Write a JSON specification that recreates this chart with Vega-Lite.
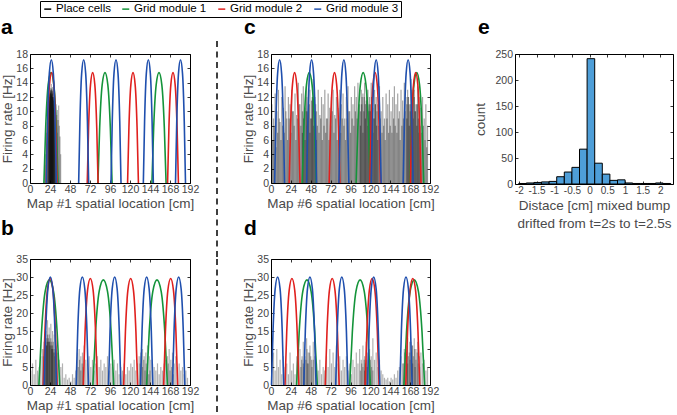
{
"$schema": "https://vega.github.io/schema/vega-lite/v6.json",
"padding": {"left": 0, "top": 0, "right": 0, "bottom": 0},
"config": {
  "font": "Liberation Sans",
  "view": {"stroke": "black", "strokeWidth": 1},
  "axis": {"grid": false, "domain": false, "tickSize": -3, "tickColor": "black", "tickWidth": 0.8, "labelPadding": 5.5, "labelFontSize": 10.5, "labelColor": "#444444", "labelFont": "Liberation Sans", "titleFont": "Liberation Sans", "titleFontSize": 13.5, "titleFontWeight": "normal", "titleColor": "#4a4a4a", "labelOverlap": false, "labelFlush": false, "titleLineHeight": 18},
  "axisY": {"titlePadding": 1},
  "axisX": {"titlePadding": 1.5, "labelPadding": 4.5},
  "title": {"anchor": "start", "frame": "group", "fontSize": 21, "fontWeight": "bold", "color": "black", "baseline": "alphabetic", "font": "Liberation Sans"},
  "legend": {"strokeColor": "black", "padding": 2, "labelFontSize": 11.5, "labelColor": "black", "labelFont": "Liberation Sans", "symbolType": "stroke", "symbolSize": 49, "symbolStrokeWidth": 1.5, "symbolOpacity": 1, "columnPadding": 8, "labelOffset": 2.5, "labelLimit": 200}
},
"datasets": {
  "ga": [
    {"m":"Grid module 1","k":"g1","x":16.7,"y":0},{"m":"Grid module 1","k":"g1","x":18.8,"y":7.7},{"m":"Grid module 1","k":"g1","x":21.8,"y":13.7},{"m":"Grid module 1","k":"g1","x":25.2,"y":15.4},{"m":"Grid module 1","k":"g1","x":28.6,"y":13.7},{"m":"Grid module 1","k":"g1","x":31.6,"y":7.7},{"m":"Grid module 1","k":"g1","x":33.7,"y":0},
    {"m":"Grid module 1","k":"g2","x":81.5,"y":0},{"m":"Grid module 1","k":"g2","x":83.6,"y":7.7},{"m":"Grid module 1","k":"g2","x":86.6,"y":13.7},{"m":"Grid module 1","k":"g2","x":90,"y":15.4},{"m":"Grid module 1","k":"g2","x":93.4,"y":13.7},{"m":"Grid module 1","k":"g2","x":96.4,"y":7.7},{"m":"Grid module 1","k":"g2","x":98.5,"y":0},
    {"m":"Grid module 1","k":"g3","x":146.3,"y":0},{"m":"Grid module 1","k":"g3","x":148.4,"y":7.7},{"m":"Grid module 1","k":"g3","x":151.4,"y":13.7},{"m":"Grid module 1","k":"g3","x":154.8,"y":15.4},{"m":"Grid module 1","k":"g3","x":158.2,"y":13.7},{"m":"Grid module 1","k":"g3","x":161.2,"y":7.7},{"m":"Grid module 1","k":"g3","x":163.3,"y":0},
    {"m":"Grid module 2","k":"r1","x":19.5,"y":0},{"m":"Grid module 2","k":"r1","x":21.1,"y":7.7},{"m":"Grid module 2","k":"r1","x":23.4,"y":13.7},{"m":"Grid module 2","k":"r1","x":26,"y":15.4},{"m":"Grid module 2","k":"r1","x":28.6,"y":13.7},{"m":"Grid module 2","k":"r1","x":30.9,"y":7.7},{"m":"Grid module 2","k":"r1","x":32.5,"y":0},
    {"m":"Grid module 2","k":"r2","x":68.7,"y":0},{"m":"Grid module 2","k":"r2","x":70.3,"y":7.7},{"m":"Grid module 2","k":"r2","x":72.6,"y":13.7},{"m":"Grid module 2","k":"r2","x":75.2,"y":15.4},{"m":"Grid module 2","k":"r2","x":77.8,"y":13.7},{"m":"Grid module 2","k":"r2","x":80.1,"y":7.7},{"m":"Grid module 2","k":"r2","x":81.7,"y":0},
    {"m":"Grid module 2","k":"r3","x":117.1,"y":0},{"m":"Grid module 2","k":"r3","x":118.7,"y":7.7},{"m":"Grid module 2","k":"r3","x":121,"y":13.7},{"m":"Grid module 2","k":"r3","x":123.6,"y":15.4},{"m":"Grid module 2","k":"r3","x":126.2,"y":13.7},{"m":"Grid module 2","k":"r3","x":128.5,"y":7.7},{"m":"Grid module 2","k":"r3","x":130.1,"y":0},
    {"m":"Grid module 2","k":"r4","x":165.1,"y":0},{"m":"Grid module 2","k":"r4","x":166.7,"y":7.7},{"m":"Grid module 2","k":"r4","x":169,"y":13.7},{"m":"Grid module 2","k":"r4","x":171.6,"y":15.4},{"m":"Grid module 2","k":"r4","x":174.2,"y":13.7},{"m":"Grid module 2","k":"r4","x":176.5,"y":7.7},{"m":"Grid module 2","k":"r4","x":178.1,"y":0},
    {"m":"Grid module 3","k":"b1","x":19.6,"y":0},{"m":"Grid module 3","k":"b1","x":21.1,"y":8.6},{"m":"Grid module 3","k":"b1","x":23.2,"y":15.3},{"m":"Grid module 3","k":"b1","x":25.6,"y":17.2},{"m":"Grid module 3","k":"b1","x":28,"y":15.3},{"m":"Grid module 3","k":"b1","x":30.1,"y":8.6},{"m":"Grid module 3","k":"b1","x":31.6,"y":0},
    {"m":"Grid module 3","k":"b2","x":58.4,"y":0},{"m":"Grid module 3","k":"b2","x":59.9,"y":8.6},{"m":"Grid module 3","k":"b2","x":62,"y":15.3},{"m":"Grid module 3","k":"b2","x":64.4,"y":17.2},{"m":"Grid module 3","k":"b2","x":66.8,"y":15.3},{"m":"Grid module 3","k":"b2","x":68.9,"y":8.6},{"m":"Grid module 3","k":"b2","x":70.4,"y":0},
    {"m":"Grid module 3","k":"b3","x":97.2,"y":0},{"m":"Grid module 3","k":"b3","x":98.7,"y":8.6},{"m":"Grid module 3","k":"b3","x":100.8,"y":15.3},{"m":"Grid module 3","k":"b3","x":103.2,"y":17.2},{"m":"Grid module 3","k":"b3","x":105.6,"y":15.3},{"m":"Grid module 3","k":"b3","x":107.7,"y":8.6},{"m":"Grid module 3","k":"b3","x":109.2,"y":0},
    {"m":"Grid module 3","k":"b4","x":136,"y":0},{"m":"Grid module 3","k":"b4","x":137.5,"y":8.6},{"m":"Grid module 3","k":"b4","x":139.6,"y":15.3},{"m":"Grid module 3","k":"b4","x":142,"y":17.2},{"m":"Grid module 3","k":"b4","x":144.4,"y":15.3},{"m":"Grid module 3","k":"b4","x":146.5,"y":8.6},{"m":"Grid module 3","k":"b4","x":148,"y":0},
    {"m":"Grid module 3","k":"b5","x":174.6,"y":0},{"m":"Grid module 3","k":"b5","x":176.1,"y":8.6},{"m":"Grid module 3","k":"b5","x":178.2,"y":15.3},{"m":"Grid module 3","k":"b5","x":180.6,"y":17.2},{"m":"Grid module 3","k":"b5","x":183,"y":15.3},{"m":"Grid module 3","k":"b5","x":185.1,"y":8.6},{"m":"Grid module 3","k":"b5","x":186.6,"y":0}
  ],
  "gb": [
    {"m":"Grid module 1","k":"g1","x":10.7,"y":0},{"m":"Grid module 1","k":"g1","x":13.8,"y":14.6},{"m":"Grid module 1","k":"g1","x":18.2,"y":26},{"m":"Grid module 1","k":"g1","x":23.2,"y":29.2},{"m":"Grid module 1","k":"g1","x":28.2,"y":26},{"m":"Grid module 1","k":"g1","x":32.6,"y":14.6},{"m":"Grid module 1","k":"g1","x":35.7,"y":0},
    {"m":"Grid module 1","k":"g2","x":75.5,"y":0},{"m":"Grid module 1","k":"g2","x":78.6,"y":14.6},{"m":"Grid module 1","k":"g2","x":83,"y":26},{"m":"Grid module 1","k":"g2","x":88,"y":29.2},{"m":"Grid module 1","k":"g2","x":93,"y":26},{"m":"Grid module 1","k":"g2","x":97.4,"y":14.6},{"m":"Grid module 1","k":"g2","x":100.5,"y":0},
    {"m":"Grid module 1","k":"g3","x":139.9,"y":0},{"m":"Grid module 1","k":"g3","x":143,"y":14.6},{"m":"Grid module 1","k":"g3","x":147.4,"y":26},{"m":"Grid module 1","k":"g3","x":152.4,"y":29.2},{"m":"Grid module 1","k":"g3","x":157.4,"y":26},{"m":"Grid module 1","k":"g3","x":161.8,"y":14.6},{"m":"Grid module 1","k":"g3","x":164.9,"y":0},
    {"m":"Grid module 2","k":"r1","x":15.8,"y":0},{"m":"Grid module 2","k":"r1","x":17.9,"y":14.8},{"m":"Grid module 2","k":"r1","x":20.84,"y":26.3},{"m":"Grid module 2","k":"r1","x":24.2,"y":29.6},{"m":"Grid module 2","k":"r1","x":27.56,"y":26.3},{"m":"Grid module 2","k":"r1","x":30.5,"y":14.8},{"m":"Grid module 2","k":"r1","x":32.6,"y":0},
    {"m":"Grid module 2","k":"r2","x":64,"y":0},{"m":"Grid module 2","k":"r2","x":66.1,"y":14.8},{"m":"Grid module 2","k":"r2","x":69.04,"y":26.3},{"m":"Grid module 2","k":"r2","x":72.4,"y":29.6},{"m":"Grid module 2","k":"r2","x":75.76,"y":26.3},{"m":"Grid module 2","k":"r2","x":78.7,"y":14.8},{"m":"Grid module 2","k":"r2","x":80.8,"y":0},
    {"m":"Grid module 2","k":"r3","x":112.4,"y":0},{"m":"Grid module 2","k":"r3","x":114.5,"y":14.8},{"m":"Grid module 2","k":"r3","x":117.44,"y":26.3},{"m":"Grid module 2","k":"r3","x":120.8,"y":29.6},{"m":"Grid module 2","k":"r3","x":124.16,"y":26.3},{"m":"Grid module 2","k":"r3","x":127.1,"y":14.8},{"m":"Grid module 2","k":"r3","x":129.2,"y":0},
    {"m":"Grid module 2","k":"r4","x":160.4,"y":0},{"m":"Grid module 2","k":"r4","x":162.5,"y":14.8},{"m":"Grid module 2","k":"r4","x":165.44,"y":26.3},{"m":"Grid module 2","k":"r4","x":168.8,"y":29.6},{"m":"Grid module 2","k":"r4","x":172.16,"y":26.3},{"m":"Grid module 2","k":"r4","x":175.1,"y":14.8},{"m":"Grid module 2","k":"r4","x":177.2,"y":0},
    {"m":"Grid module 3","k":"b1","x":17,"y":0},{"m":"Grid module 3","k":"b1","x":18.85,"y":15},{"m":"Grid module 3","k":"b1","x":21.44,"y":26.7},{"m":"Grid module 3","k":"b1","x":24.4,"y":30},{"m":"Grid module 3","k":"b1","x":27.36,"y":26.7},{"m":"Grid module 3","k":"b1","x":29.95,"y":15},{"m":"Grid module 3","k":"b1","x":31.8,"y":0},
    {"m":"Grid module 3","k":"b2","x":55.4,"y":0},{"m":"Grid module 3","k":"b2","x":57.25,"y":15},{"m":"Grid module 3","k":"b2","x":59.84,"y":26.7},{"m":"Grid module 3","k":"b2","x":62.8,"y":30},{"m":"Grid module 3","k":"b2","x":65.76,"y":26.7},{"m":"Grid module 3","k":"b2","x":68.35,"y":15},{"m":"Grid module 3","k":"b2","x":70.2,"y":0},
    {"m":"Grid module 3","k":"b3","x":94.2,"y":0},{"m":"Grid module 3","k":"b3","x":96.05,"y":15},{"m":"Grid module 3","k":"b3","x":98.64,"y":26.7},{"m":"Grid module 3","k":"b3","x":101.6,"y":30},{"m":"Grid module 3","k":"b3","x":104.56,"y":26.7},{"m":"Grid module 3","k":"b3","x":107.15,"y":15},{"m":"Grid module 3","k":"b3","x":109,"y":0},
    {"m":"Grid module 3","k":"b4","x":132.6,"y":0},{"m":"Grid module 3","k":"b4","x":134.45,"y":15},{"m":"Grid module 3","k":"b4","x":137.04,"y":26.7},{"m":"Grid module 3","k":"b4","x":140,"y":30},{"m":"Grid module 3","k":"b4","x":142.96,"y":26.7},{"m":"Grid module 3","k":"b4","x":145.55,"y":15},{"m":"Grid module 3","k":"b4","x":147.4,"y":0},
    {"m":"Grid module 3","k":"b5","x":171,"y":0},{"m":"Grid module 3","k":"b5","x":172.85,"y":15},{"m":"Grid module 3","k":"b5","x":175.44,"y":26.7},{"m":"Grid module 3","k":"b5","x":178.4,"y":30},{"m":"Grid module 3","k":"b5","x":181.36,"y":26.7},{"m":"Grid module 3","k":"b5","x":183.95,"y":15},{"m":"Grid module 3","k":"b5","x":185.8,"y":0}
  ],
  "gc": [
    {"m":"Grid module 1","k":"g1","x":37.7,"y":0},{"m":"Grid module 1","k":"g1","x":39.8,"y":7.7},{"m":"Grid module 1","k":"g1","x":42.8,"y":13.7},{"m":"Grid module 1","k":"g1","x":46.2,"y":15.4},{"m":"Grid module 1","k":"g1","x":49.6,"y":13.7},{"m":"Grid module 1","k":"g1","x":52.6,"y":7.7},{"m":"Grid module 1","k":"g1","x":54.7,"y":0},
    {"m":"Grid module 1","k":"g2","x":102.8,"y":0},{"m":"Grid module 1","k":"g2","x":104.9,"y":7.7},{"m":"Grid module 1","k":"g2","x":107.9,"y":13.7},{"m":"Grid module 1","k":"g2","x":111.3,"y":15.4},{"m":"Grid module 1","k":"g2","x":114.7,"y":13.7},{"m":"Grid module 1","k":"g2","x":117.7,"y":7.7},{"m":"Grid module 1","k":"g2","x":119.8,"y":0},
    {"m":"Grid module 1","k":"g3","x":167.5,"y":0},{"m":"Grid module 1","k":"g3","x":169.6,"y":7.7},{"m":"Grid module 1","k":"g3","x":172.6,"y":13.7},{"m":"Grid module 1","k":"g3","x":176,"y":15.4},{"m":"Grid module 1","k":"g3","x":179.4,"y":13.7},{"m":"Grid module 1","k":"g3","x":182.4,"y":7.7},{"m":"Grid module 1","k":"g3","x":184.5,"y":0},
    {"m":"Grid module 2","k":"r1","x":22,"y":0},{"m":"Grid module 2","k":"r1","x":23.6,"y":7.7},{"m":"Grid module 2","k":"r1","x":25.9,"y":13.7},{"m":"Grid module 2","k":"r1","x":28.5,"y":15.4},{"m":"Grid module 2","k":"r1","x":31.1,"y":13.7},{"m":"Grid module 2","k":"r1","x":33.4,"y":7.7},{"m":"Grid module 2","k":"r1","x":35,"y":0},
    {"m":"Grid module 2","k":"r2","x":70.2,"y":0},{"m":"Grid module 2","k":"r2","x":71.8,"y":7.7},{"m":"Grid module 2","k":"r2","x":74.1,"y":13.7},{"m":"Grid module 2","k":"r2","x":76.7,"y":15.4},{"m":"Grid module 2","k":"r2","x":79.3,"y":13.7},{"m":"Grid module 2","k":"r2","x":81.6,"y":7.7},{"m":"Grid module 2","k":"r2","x":83.2,"y":0},
    {"m":"Grid module 2","k":"r3","x":119.2,"y":0},{"m":"Grid module 2","k":"r3","x":120.8,"y":7.7},{"m":"Grid module 2","k":"r3","x":123.1,"y":13.7},{"m":"Grid module 2","k":"r3","x":125.7,"y":15.4},{"m":"Grid module 2","k":"r3","x":128.3,"y":13.7},{"m":"Grid module 2","k":"r3","x":130.6,"y":7.7},{"m":"Grid module 2","k":"r3","x":132.2,"y":0},
    {"m":"Grid module 2","k":"r4","x":168.2,"y":0},{"m":"Grid module 2","k":"r4","x":169.8,"y":7.7},{"m":"Grid module 2","k":"r4","x":172.1,"y":13.7},{"m":"Grid module 2","k":"r4","x":174.7,"y":15.4},{"m":"Grid module 2","k":"r4","x":177.3,"y":13.7},{"m":"Grid module 2","k":"r4","x":179.6,"y":7.7},{"m":"Grid module 2","k":"r4","x":181.2,"y":0},
    {"m":"Grid module 3","k":"b1","x":4.4,"y":0},{"m":"Grid module 3","k":"b1","x":5.9,"y":8.6},{"m":"Grid module 3","k":"b1","x":8,"y":15.3},{"m":"Grid module 3","k":"b1","x":10.4,"y":17.2},{"m":"Grid module 3","k":"b1","x":12.8,"y":15.3},{"m":"Grid module 3","k":"b1","x":14.9,"y":8.6},{"m":"Grid module 3","k":"b1","x":16.4,"y":0},
    {"m":"Grid module 3","k":"b2","x":43,"y":0},{"m":"Grid module 3","k":"b2","x":44.5,"y":8.6},{"m":"Grid module 3","k":"b2","x":46.6,"y":15.3},{"m":"Grid module 3","k":"b2","x":49,"y":17.2},{"m":"Grid module 3","k":"b2","x":51.4,"y":15.3},{"m":"Grid module 3","k":"b2","x":53.5,"y":8.6},{"m":"Grid module 3","k":"b2","x":55,"y":0},
    {"m":"Grid module 3","k":"b3","x":82,"y":0},{"m":"Grid module 3","k":"b3","x":83.5,"y":8.6},{"m":"Grid module 3","k":"b3","x":85.6,"y":15.3},{"m":"Grid module 3","k":"b3","x":88,"y":17.2},{"m":"Grid module 3","k":"b3","x":90.4,"y":15.3},{"m":"Grid module 3","k":"b3","x":92.5,"y":8.6},{"m":"Grid module 3","k":"b3","x":94,"y":0},
    {"m":"Grid module 3","k":"b4","x":121,"y":0},{"m":"Grid module 3","k":"b4","x":122.5,"y":8.6},{"m":"Grid module 3","k":"b4","x":124.6,"y":15.3},{"m":"Grid module 3","k":"b4","x":127,"y":17.2},{"m":"Grid module 3","k":"b4","x":129.4,"y":15.3},{"m":"Grid module 3","k":"b4","x":131.5,"y":8.6},{"m":"Grid module 3","k":"b4","x":133,"y":0},
    {"m":"Grid module 3","k":"b5","x":159.6,"y":0},{"m":"Grid module 3","k":"b5","x":161.1,"y":8.6},{"m":"Grid module 3","k":"b5","x":163.2,"y":15.3},{"m":"Grid module 3","k":"b5","x":165.6,"y":17.2},{"m":"Grid module 3","k":"b5","x":168,"y":15.3},{"m":"Grid module 3","k":"b5","x":170.1,"y":8.6},{"m":"Grid module 3","k":"b5","x":171.6,"y":0}
  ],
  "gd": [
    {"m":"Grid module 1","k":"g1","x":30.9,"y":0},{"m":"Grid module 1","k":"g1","x":34,"y":14.6},{"m":"Grid module 1","k":"g1","x":38.4,"y":26},{"m":"Grid module 1","k":"g1","x":43.4,"y":29.2},{"m":"Grid module 1","k":"g1","x":48.4,"y":26},{"m":"Grid module 1","k":"g1","x":52.8,"y":14.6},{"m":"Grid module 1","k":"g1","x":55.9,"y":0},
    {"m":"Grid module 1","k":"g2","x":95.1,"y":0},{"m":"Grid module 1","k":"g2","x":98.2,"y":14.6},{"m":"Grid module 1","k":"g2","x":102.6,"y":26},{"m":"Grid module 1","k":"g2","x":107.6,"y":29.2},{"m":"Grid module 1","k":"g2","x":112.6,"y":26},{"m":"Grid module 1","k":"g2","x":117,"y":14.6},{"m":"Grid module 1","k":"g2","x":120.1,"y":0},
    {"m":"Grid module 1","k":"g3","x":160.5,"y":0},{"m":"Grid module 1","k":"g3","x":163.6,"y":14.6},{"m":"Grid module 1","k":"g3","x":168,"y":26},{"m":"Grid module 1","k":"g3","x":173,"y":29.2},{"m":"Grid module 1","k":"g3","x":178,"y":26},{"m":"Grid module 1","k":"g3","x":182.4,"y":14.6},{"m":"Grid module 1","k":"g3","x":185.5,"y":0},
    {"m":"Grid module 2","k":"r1","x":16.9,"y":0},{"m":"Grid module 2","k":"r1","x":19,"y":14.8},{"m":"Grid module 2","k":"r1","x":21.94,"y":26.3},{"m":"Grid module 2","k":"r1","x":25.3,"y":29.6},{"m":"Grid module 2","k":"r1","x":28.66,"y":26.3},{"m":"Grid module 2","k":"r1","x":31.6,"y":14.8},{"m":"Grid module 2","k":"r1","x":33.7,"y":0},
    {"m":"Grid module 2","k":"r2","x":65.5,"y":0},{"m":"Grid module 2","k":"r2","x":67.6,"y":14.8},{"m":"Grid module 2","k":"r2","x":70.54,"y":26.3},{"m":"Grid module 2","k":"r2","x":73.9,"y":29.6},{"m":"Grid module 2","k":"r2","x":77.26,"y":26.3},{"m":"Grid module 2","k":"r2","x":80.2,"y":14.8},{"m":"Grid module 2","k":"r2","x":82.3,"y":0},
    {"m":"Grid module 2","k":"r3","x":113.7,"y":0},{"m":"Grid module 2","k":"r3","x":115.8,"y":14.8},{"m":"Grid module 2","k":"r3","x":118.74,"y":26.3},{"m":"Grid module 2","k":"r3","x":122.1,"y":29.6},{"m":"Grid module 2","k":"r3","x":125.46,"y":26.3},{"m":"Grid module 2","k":"r3","x":128.4,"y":14.8},{"m":"Grid module 2","k":"r3","x":130.5,"y":0},
    {"m":"Grid module 2","k":"r4","x":162.8,"y":0},{"m":"Grid module 2","k":"r4","x":164.9,"y":14.8},{"m":"Grid module 2","k":"r4","x":167.84,"y":26.3},{"m":"Grid module 2","k":"r4","x":171.2,"y":29.6},{"m":"Grid module 2","k":"r4","x":174.56,"y":26.3},{"m":"Grid module 2","k":"r4","x":177.5,"y":14.8},{"m":"Grid module 2","k":"r4","x":179.6,"y":0},
    {"m":"Grid module 3","k":"b1","x":0.6,"y":0},{"m":"Grid module 3","k":"b1","x":2.45,"y":15},{"m":"Grid module 3","k":"b1","x":5.04,"y":26.7},{"m":"Grid module 3","k":"b1","x":8,"y":30},{"m":"Grid module 3","k":"b1","x":10.96,"y":26.7},{"m":"Grid module 3","k":"b1","x":13.55,"y":15},{"m":"Grid module 3","k":"b1","x":15.4,"y":0},
    {"m":"Grid module 3","k":"b2","x":39.6,"y":0},{"m":"Grid module 3","k":"b2","x":41.45,"y":15},{"m":"Grid module 3","k":"b2","x":44.04,"y":26.7},{"m":"Grid module 3","k":"b2","x":47,"y":30},{"m":"Grid module 3","k":"b2","x":49.96,"y":26.7},{"m":"Grid module 3","k":"b2","x":52.55,"y":15},{"m":"Grid module 3","k":"b2","x":54.4,"y":0},
    {"m":"Grid module 3","k":"b3","x":78.1,"y":0},{"m":"Grid module 3","k":"b3","x":79.95,"y":15},{"m":"Grid module 3","k":"b3","x":82.54,"y":26.7},{"m":"Grid module 3","k":"b3","x":85.5,"y":30},{"m":"Grid module 3","k":"b3","x":88.46,"y":26.7},{"m":"Grid module 3","k":"b3","x":91.05,"y":15},{"m":"Grid module 3","k":"b3","x":92.9,"y":0},
    {"m":"Grid module 3","k":"b4","x":116.6,"y":0},{"m":"Grid module 3","k":"b4","x":118.45,"y":15},{"m":"Grid module 3","k":"b4","x":121.04,"y":26.7},{"m":"Grid module 3","k":"b4","x":124,"y":30},{"m":"Grid module 3","k":"b4","x":126.96,"y":26.7},{"m":"Grid module 3","k":"b4","x":129.55,"y":15},{"m":"Grid module 3","k":"b4","x":131.4,"y":0},
    {"m":"Grid module 3","k":"b5","x":155.6,"y":0},{"m":"Grid module 3","k":"b5","x":157.45,"y":15},{"m":"Grid module 3","k":"b5","x":160.04,"y":26.7},{"m":"Grid module 3","k":"b5","x":163,"y":30},{"m":"Grid module 3","k":"b5","x":165.96,"y":26.7},{"m":"Grid module 3","k":"b5","x":168.55,"y":15},{"m":"Grid module 3","k":"b5","x":170.4,"y":0}
  ],
  "pa": [
    {"x":17.6,"y":2.5},{"x":18.4,"y":4},{"x":19.2,"y":5.5},{"x":20,"y":7},{"x":20.8,"y":8.5},{"x":21.6,"y":10},{"x":22.4,"y":11.5},{"x":23.2,"y":12.4},{"x":24,"y":12.8},{"x":24.8,"y":13.3},{"x":25.6,"y":13.8},{"x":26.4,"y":13},{"x":27.2,"y":13.4},{"x":28,"y":12.6},{"x":28.8,"y":12},{"x":29.6,"y":11.4},{"x":30.4,"y":10.5},{"x":31.2,"y":11},{"x":32,"y":9.5},{"x":32.8,"y":10.2},{"x":33.6,"y":8.8},{"x":34.4,"y":10.8},{"x":35.2,"y":8},{"x":36,"y":6.5},{"x":36.8,"y":4},
    {"x":21.2,"y":9},{"x":22,"y":10.5},{"x":22.8,"y":12},{"x":23.6,"y":12.6},{"x":24.4,"y":13},{"x":25.2,"y":12.8},{"x":26,"y":13.2},{"x":26.8,"y":12.5},{"x":27.6,"y":12.8},{"x":28.4,"y":12},{"x":29.2,"y":11},{"x":30,"y":10},{"x":30.8,"y":9},{"x":31.6,"y":8},{"x":32.4,"y":7},
    {"x":22.6,"y":11.5},{"x":23.4,"y":12.2},{"x":24.2,"y":12.4},{"x":25,"y":12.6},{"x":25.8,"y":12.2},{"x":26.6,"y":12.8},{"x":27.4,"y":12},{"x":28.2,"y":11.5},{"x":29,"y":10.5},{"x":29.8,"y":9.5},
    {"x":23.8,"y":12},{"x":24.6,"y":12.5},{"x":25.4,"y":13},{"x":26.2,"y":12.4},{"x":27,"y":12},{"x":27.8,"y":11.8}
  ],
  "pb": [
    {"x":1,"y":4},{"x":3,"y":6},{"x":5,"y":3},{"x":7,"y":7},{"x":9,"y":4},{"x":11,"y":5},{"x":13,"y":8},{"x":15,"y":10},{"x":17,"y":12},{"x":19,"y":15},{"x":21,"y":18},{"x":23,"y":16},{"x":25,"y":17},{"x":27,"y":15},{"x":29,"y":14},{"x":31,"y":11},{"x":33,"y":9},{"x":35,"y":7},{"x":37,"y":5},{"x":39,"y":6},{"x":41,"y":2},{"x":43,"y":3},{"x":45,"y":1.5},{"x":47,"y":2},{"x":49,"y":1},{"x":51,"y":3},{"x":53,"y":2},{"x":55,"y":4},{"x":57,"y":9},{"x":59,"y":10},{"x":61,"y":8},{"x":63,"y":9},{"x":65,"y":11},{"x":67,"y":7},{"x":69,"y":6},{"x":71,"y":8},{"x":73,"y":5},{"x":75,"y":7},{"x":77,"y":4},{"x":79,"y":6},{"x":81,"y":8},{"x":83,"y":5},{"x":85,"y":7},{"x":87,"y":4},{"x":89,"y":6},{"x":91,"y":5},{"x":93,"y":8},{"x":95,"y":4},{"x":97,"y":6},{"x":99,"y":5},{"x":101,"y":7},{"x":103,"y":4},{"x":105,"y":6},{"x":107,"y":3},{"x":109,"y":5},{"x":111,"y":4},{"x":113,"y":6},{"x":115,"y":3},{"x":117,"y":5},{"x":119,"y":4},{"x":121,"y":6},{"x":123,"y":5},{"x":125,"y":7},{"x":127,"y":4},{"x":129,"y":6},{"x":131,"y":8},{"x":133,"y":9},{"x":135,"y":10},{"x":137,"y":8},{"x":139,"y":9},{"x":141,"y":11},{"x":143,"y":8},{"x":145,"y":7},{"x":147,"y":6},{"x":149,"y":5},{"x":151,"y":4},{"x":153,"y":6},{"x":155,"y":3},{"x":157,"y":5},{"x":159,"y":4},{"x":161,"y":6},{"x":163,"y":7},{"x":165,"y":8},{"x":167,"y":10},{"x":169,"y":7},{"x":171,"y":9},{"x":173,"y":6},{"x":175,"y":8},{"x":177,"y":5},{"x":179,"y":6},{"x":181,"y":4},{"x":183,"y":5},{"x":185,"y":3},{"x":187,"y":4},{"x":189,"y":2},
    {"x":16,"y":8},{"x":17,"y":10},{"x":18,"y":11},{"x":19,"y":12},{"x":20,"y":13},{"x":21,"y":14},{"x":22,"y":13},{"x":23,"y":14},{"x":24,"y":12},{"x":25,"y":13},{"x":26,"y":12},{"x":27,"y":11},{"x":28,"y":12},{"x":29,"y":10},{"x":30,"y":9},{"x":31,"y":8},{"x":32,"y":6},
    {"x":18,"y":10},{"x":19.5,"y":11},{"x":20,"y":11},{"x":21,"y":12},{"x":22.5,"y":12},{"x":23,"y":12},{"x":24,"y":11},{"x":25.5,"y":11},{"x":26,"y":10},{"x":27,"y":10},{"x":28.5,"y":9},{"x":30,"y":8},
    {"x":58,"y":5},{"x":59.5,"y":7},{"x":61,"y":4},{"x":62.5,"y":6},{"x":64,"y":5},{"x":132,"y":6},{"x":133.5,"y":8},{"x":135,"y":5},{"x":136.5,"y":7},{"x":138,"y":4},{"x":139.5,"y":6},{"x":141,"y":5},{"x":142.5,"y":3},{"x":144,"y":4},{"x":166,"y":6},{"x":168,"y":4},{"x":170,"y":5},{"x":172,"y":3}
  ],
  "pc": [
    {"x":1,"y":11},{"x":3,"y":9},{"x":5,"y":12.5},{"x":7,"y":10},{"x":9,"y":13},{"x":11,"y":8.5},{"x":13,"y":12},{"x":15,"y":10.5},{"x":17,"y":13.5},{"x":19,"y":9},{"x":21,"y":12},{"x":23,"y":11},{"x":25,"y":13},{"x":27,"y":10},{"x":29,"y":12.5},{"x":31,"y":9.5},{"x":33,"y":14},{"x":35,"y":11},{"x":37,"y":12.5},{"x":39,"y":13.5},{"x":41,"y":10.5},{"x":43,"y":14},{"x":45,"y":12},{"x":47,"y":13},{"x":49,"y":11.5},{"x":51,"y":14.5},{"x":53,"y":12},{"x":55,"y":10},{"x":57,"y":13},{"x":59,"y":9.5},{"x":61,"y":12},{"x":63,"y":11},{"x":65,"y":13},{"x":67,"y":9},{"x":69,"y":12.5},{"x":71,"y":10.5},{"x":73,"y":12},{"x":75,"y":13},{"x":77,"y":9.5},{"x":79,"y":12},{"x":81,"y":10.5},{"x":83,"y":13},{"x":85,"y":11},{"x":87,"y":12.5},{"x":89,"y":9},{"x":91,"y":12},{"x":93,"y":13.5},{"x":95,"y":10},{"x":97,"y":12},{"x":99,"y":11},{"x":101,"y":13.5},{"x":103,"y":12},{"x":105,"y":14},{"x":107,"y":11},{"x":109,"y":13},{"x":111,"y":12.5},{"x":113,"y":14},{"x":115,"y":11.5},{"x":117,"y":13},{"x":119,"y":12},{"x":121,"y":14},{"x":123,"y":10.5},{"x":125,"y":13},{"x":127,"y":12},{"x":129,"y":11},{"x":131,"y":13.5},{"x":133,"y":10},{"x":135,"y":12},{"x":137,"y":9},{"x":139,"y":12.5},{"x":141,"y":11},{"x":143,"y":13},{"x":145,"y":10},{"x":147,"y":12},{"x":149,"y":13.5},{"x":151,"y":11},{"x":153,"y":12.5},{"x":155,"y":10},{"x":157,"y":13},{"x":159,"y":11.5},{"x":161,"y":14},{"x":163,"y":12},{"x":165,"y":13},{"x":167,"y":11},{"x":169,"y":14.5},{"x":171,"y":12.5},{"x":173,"y":13},{"x":175,"y":11},{"x":177,"y":13.5},{"x":179,"y":12},{"x":181,"y":10.5},{"x":183,"y":12},{"x":185,"y":9},{"x":187,"y":11},{"x":189,"y":8},
    {"x":2,"y":6},{"x":4,"y":8},{"x":6,"y":5},{"x":8,"y":7},{"x":10,"y":9},{"x":12,"y":6},{"x":14,"y":8},{"x":16,"y":7},{"x":18,"y":10},{"x":20,"y":6},{"x":22,"y":9},{"x":24,"y":7},{"x":26,"y":10},{"x":28,"y":8},{"x":30,"y":6},{"x":32,"y":9},{"x":34,"y":11},{"x":36,"y":8},{"x":38,"y":10},{"x":40,"y":9},{"x":42,"y":12},{"x":44,"y":10},{"x":46,"y":11},{"x":48,"y":9},{"x":50,"y":12},{"x":52,"y":10},{"x":54,"y":11},{"x":56,"y":8},{"x":58,"y":7},{"x":60,"y":9},{"x":62,"y":6},{"x":64,"y":8},{"x":66,"y":7},{"x":68,"y":9},{"x":70,"y":6},{"x":72,"y":8},{"x":74,"y":10},{"x":76,"y":7},{"x":78,"y":9},{"x":80,"y":6},{"x":82,"y":8},{"x":84,"y":7},{"x":86,"y":9},{"x":88,"y":8},{"x":90,"y":6},{"x":92,"y":9},{"x":94,"y":10},{"x":96,"y":7},{"x":98,"y":9},{"x":100,"y":8},{"x":102,"y":10},{"x":104,"y":9},{"x":106,"y":11},{"x":108,"y":10},{"x":110,"y":12},{"x":112,"y":10},{"x":114,"y":11},{"x":116,"y":12},{"x":118,"y":10},{"x":120,"y":11},{"x":122,"y":12},{"x":124,"y":9},{"x":126,"y":11},{"x":128,"y":10},{"x":130,"y":8},{"x":132,"y":9},{"x":134,"y":7},{"x":136,"y":8},{"x":138,"y":6},{"x":140,"y":9},{"x":142,"y":7},{"x":144,"y":8},{"x":146,"y":7},{"x":148,"y":9},{"x":150,"y":8},{"x":152,"y":7},{"x":154,"y":9},{"x":156,"y":6},{"x":158,"y":8},{"x":160,"y":9},{"x":162,"y":10},{"x":164,"y":11},{"x":166,"y":12},{"x":168,"y":10},{"x":170,"y":11},{"x":172,"y":12},{"x":174,"y":10},{"x":176,"y":11},{"x":178,"y":9},{"x":180,"y":8},{"x":182,"y":7},{"x":184,"y":8},{"x":186,"y":6},{"x":188,"y":5},
    {"x":38,"y":7},{"x":39.5,"y":9},{"x":41,"y":6},{"x":42.5,"y":10},{"x":44,"y":8},{"x":45.5,"y":11},{"x":47,"y":7},{"x":48.5,"y":9},{"x":50,"y":12},{"x":51.5,"y":8},{"x":53,"y":10},{"x":54.5,"y":6},{"x":108,"y":8},{"x":109.5,"y":11},{"x":111,"y":7},{"x":112.5,"y":12},{"x":114,"y":9},{"x":115.5,"y":13},{"x":117,"y":8},{"x":118.5,"y":11},{"x":120,"y":10},{"x":121.5,"y":12},{"x":123,"y":7},{"x":124.5,"y":9},{"x":126,"y":11},{"x":127.5,"y":8},{"x":129,"y":6},{"x":164,"y":9},{"x":165.5,"y":12},{"x":167,"y":8},{"x":168.5,"y":11},{"x":170,"y":13},{"x":171.5,"y":9},{"x":173,"y":12},{"x":174.5,"y":10},{"x":176,"y":8},{"x":177.5,"y":11},{"x":179,"y":7},{"x":180.5,"y":5}
  ],
  "pd": [
    {"x":1,"y":6},{"x":3,"y":9},{"x":5,"y":4},{"x":7,"y":10},{"x":9,"y":5},{"x":11,"y":7},{"x":13,"y":3},{"x":15,"y":8},{"x":17,"y":5},{"x":19,"y":6},{"x":21,"y":3},{"x":23,"y":9},{"x":25,"y":4},{"x":27,"y":6},{"x":29,"y":3},{"x":31,"y":8},{"x":33,"y":5},{"x":35,"y":10},{"x":37,"y":7},{"x":39,"y":12},{"x":41,"y":8},{"x":43,"y":13},{"x":45,"y":9},{"x":47,"y":11},{"x":49,"y":7},{"x":51,"y":12},{"x":53,"y":8},{"x":55,"y":6},{"x":57,"y":4},{"x":59,"y":7},{"x":61,"y":3},{"x":63,"y":5},{"x":65,"y":4},{"x":67,"y":8},{"x":69,"y":5},{"x":71,"y":10},{"x":73,"y":6},{"x":75,"y":9},{"x":77,"y":5},{"x":79,"y":11},{"x":81,"y":6},{"x":83,"y":8},{"x":85,"y":4},{"x":87,"y":7},{"x":89,"y":5},{"x":91,"y":8},{"x":93,"y":4},{"x":95,"y":6},{"x":97,"y":3},{"x":99,"y":7},{"x":101,"y":5},{"x":103,"y":9},{"x":105,"y":6},{"x":107,"y":10},{"x":109,"y":7},{"x":111,"y":11},{"x":113,"y":8},{"x":115,"y":12},{"x":117,"y":9},{"x":119,"y":10},{"x":121,"y":8},{"x":123,"y":13},{"x":125,"y":7},{"x":127,"y":9},{"x":129,"y":5},{"x":131,"y":7},{"x":133,"y":4},{"x":135,"y":3},{"x":137,"y":2},{"x":139,"y":1.5},{"x":141,"y":2},{"x":143,"y":1},{"x":145,"y":2},{"x":147,"y":1.5},{"x":149,"y":3},{"x":151,"y":2},{"x":153,"y":4},{"x":155,"y":5},{"x":157,"y":8},{"x":159,"y":6},{"x":161,"y":10},{"x":163,"y":8},{"x":165,"y":13},{"x":167,"y":9},{"x":169,"y":12},{"x":171,"y":11},{"x":173,"y":13},{"x":175,"y":10},{"x":177,"y":12},{"x":179,"y":8},{"x":181,"y":9},{"x":183,"y":6},{"x":185,"y":7},{"x":187,"y":4},{"x":189,"y":5},
    {"x":36,"y":5},{"x":37.5,"y":8},{"x":39,"y":6},{"x":40.5,"y":9},{"x":42,"y":7},{"x":43.5,"y":10},{"x":45,"y":6},{"x":46.5,"y":9},{"x":48,"y":8},{"x":49.5,"y":5},{"x":51,"y":7},{"x":108,"y":4},{"x":109.5,"y":6},{"x":111,"y":5},{"x":112.5,"y":7},{"x":114,"y":6},{"x":115.5,"y":7},{"x":117,"y":5},{"x":118.5,"y":6},{"x":120,"y":7},{"x":121.5,"y":5},{"x":123,"y":4},{"x":160,"y":6},{"x":161.5,"y":9},{"x":163,"y":7},{"x":164.5,"y":11},{"x":166,"y":8},{"x":167.5,"y":12},{"x":169,"y":9},{"x":170.5,"y":11},{"x":172,"y":8},{"x":173.5,"y":10},{"x":175,"y":7},{"x":176.5,"y":9},{"x":178,"y":6},{"x":179.5,"y":5},
    {"x":165,"y":6},{"x":168,"y":7},{"x":171,"y":6},{"x":174,"y":5},{"x":113,"y":4},{"x":116,"y":5},{"x":119,"y":4},{"x":40,"y":5},{"x":44,"y":6}
  ],
  "hist": [
    {"x0":-2.005,"x1":-1.79,"n":1},{"x0":-1.79,"x1":-1.575,"n":2},{"x0":-1.575,"x1":-1.36,"n":3},{"x0":-1.36,"x1":-1.145,"n":4},{"x0":-1.145,"x1":-0.93,"n":5},{"x0":-0.93,"x1":-0.715,"n":14},{"x0":-0.715,"x1":-0.5,"n":23},{"x0":-0.5,"x1":-0.285,"n":32},{"x0":-0.285,"x1":-0.07,"n":67},{"x0":-0.07,"x1":0.145,"n":241},{"x0":0.145,"x1":0.36,"n":40},{"x0":0.36,"x1":0.575,"n":19},{"x0":0.575,"x1":0.79,"n":7},{"x0":0.79,"x1":1.005,"n":8},{"x0":1.005,"x1":1.22,"n":2},{"x0":1.22,"x1":1.435,"n":1},{"x0":1.435,"x1":1.65,"n":1},{"x0":1.65,"x1":1.865,"n":1},{"x0":1.865,"x1":2.08,"n":2},{"x0":2.08,"x1":2.295,"n":1}
  ]
},
"columns": 5,
"align": "each",
"bounds": "flush",
"spacing": {"row": 0, "column": 0},
"resolve": {"legend": {"color": "independent"}},
"concat": [
  {
    "width": 160, "height": 129,
    "title": {"text": "a", "dx": -29, "offset": 11},
    "resolve": {"axis": {"x": "independent", "y": "independent"}},
    "layer": [
      {"data": {"name": "pa"}, "mark": {"type": "rule", "strokeWidth": 1.2, "opacity": 0.3},
       "encoding": {
        "x": {"field": "x", "type": "quantitative", "scale": {"domain": [0, 192], "nice": false}, "axis": {"orient": "top", "values": [0,24,48,72,96,120,144,168,192], "labels": false, "title": null}},
        "y": {"field": "y", "type": "quantitative", "scale": {"domain": [0, 18], "nice": false}, "axis": {"orient": "right", "values": [0,2,4,6,8,10,12,14,16,18], "labels": false, "title": null}},
        "y2": {"datum": 0},
        "color": {"datum": "Place cells", "type": "nominal", "scale": {"domain": ["Place cells","Grid module 1","Grid module 2","Grid module 3"], "range": ["#000000","#14943a","#e0201e","#1f4fae"]}, "legend": null}}},
      {"data": {"name": "ga"}, "mark": {"type": "line", "strokeWidth": 1.6, "interpolate": "monotone"},
       "encoding": {
        "x": {"field": "x", "type": "quantitative", "scale": {"domain": [0, 192], "nice": false}, "axis": {"values": [0,24,48,72,96,120,144,168,192], "title": "Map #1 spatial location [cm]"}},
        "y": {"field": "y", "type": "quantitative", "scale": {"domain": [0, 18], "nice": false}, "axis": {"values": [0,2,4,6,8,10,12,14,16,18], "title": "Firing rate [Hz]"}},
        "color": {"field": "m", "type": "nominal", "scale": {"domain": ["Place cells","Grid module 1","Grid module 2","Grid module 3"], "range": ["#000000","#14943a","#e0201e","#1f4fae"]}, "legend": null},
        "detail": {"field": "k"}}}
    ]
  },
  {
    "width": 81, "height": 205, "view": {"stroke": null},
    "layer": [
      {"data": {"values": [{"x": 1, "top": 218, "bottom": 0}]},
       "mark": {"type": "rule", "strokeDash": [6, 4.5], "strokeWidth": 1.5, "color": "black", "clip": false},
       "encoding": {
        "x": {"field": "x", "type": "quantitative", "scale": {"domain": [0, 3]}, "axis": null},
        "y": {"field": "top", "type": "quantitative", "scale": {"domain": [0, 205], "nice": false}, "axis": null},
        "y2": {"field": "bottom"}}},
      {"data": {"values": []},
       "mark": {"type": "rule", "strokeWidth": 1.5},
       "encoding": {
        "x": {"field": "x", "type": "quantitative", "scale": {"domain": [0, 3]}, "axis": null},
        "color": {"field": "m", "type": "nominal", "scale": {"domain": ["Place cells","Grid module 1","Grid module 2","Grid module 3"], "range": ["#000000","#14943a","#e0201e","#1f4fae"]}, "legend": {"title": null, "orient": "none", "legendX": -150, "legendY": -53, "direction": "horizontal"}}}}
    ]
  },
  {
    "width": 159, "height": 129,
    "title": {"text": "c", "dx": -27, "offset": 11},
    "resolve": {"axis": {"x": "independent", "y": "independent"}},
    "layer": [
      {"data": {"name": "pc"}, "mark": {"type": "rule", "strokeWidth": 1.2, "opacity": 0.36},
       "encoding": {
        "x": {"field": "x", "type": "quantitative", "scale": {"domain": [0, 192], "nice": false}, "axis": {"orient": "top", "values": [0,24,48,72,96,120,144,168,192], "labels": false, "title": null}},
        "y": {"field": "y", "type": "quantitative", "scale": {"domain": [0, 18], "nice": false}, "axis": {"orient": "right", "values": [0,2,4,6,8,10,12,14,16,18], "labels": false, "title": null}},
        "y2": {"datum": 0},
        "color": {"datum": "Place cells", "type": "nominal", "scale": {"domain": ["Place cells","Grid module 1","Grid module 2","Grid module 3"], "range": ["#000000","#14943a","#e0201e","#1f4fae"]}, "legend": null}}},
      {"data": {"name": "gc"}, "mark": {"type": "line", "strokeWidth": 1.6, "interpolate": "monotone"},
       "encoding": {
        "x": {"field": "x", "type": "quantitative", "scale": {"domain": [0, 192], "nice": false}, "axis": {"values": [0,24,48,72,96,120,144,168,192], "title": "Map #6 spatial location [cm]"}},
        "y": {"field": "y", "type": "quantitative", "scale": {"domain": [0, 18], "nice": false}, "axis": {"values": [0,2,4,6,8,10,12,14,16,18], "title": "Firing rate [Hz]"}},
        "color": {"field": "m", "type": "nominal", "scale": {"domain": ["Place cells","Grid module 1","Grid module 2","Grid module 3"], "range": ["#000000","#14943a","#e0201e","#1f4fae"]}, "legend": null},
        "detail": {"field": "k"}}}
    ]
  },
  {
    "width": 85, "height": 10, "view": {"stroke": null},
    "data": {"values": [{"x": 0}]},
    "mark": {"type": "point", "opacity": 0},
    "encoding": {}
  },
  {
    "width": 158, "height": 130,
    "title": {"text": "e", "dx": -37, "offset": 11},
    "data": {"name": "hist"},
    "resolve": {"axis": {"x": "independent", "y": "independent"}},
    "layer": [
      {"mark": {"type": "bar", "color": "#4e9ed8", "stroke": "black", "strokeWidth": 1},
       "encoding": {
        "x": {"field": "x0", "type": "quantitative", "scale": {"domain": [-2.11, 2.36], "nice": false, "zero": false}, "axis": {"values": [-2,-1.5,-1,-0.5,0,0.5,1,1.5,2], "labelOverlap": false, "labelFontSize": 10, "titlePadding": 3, "title": ["Distace [cm] mixed bump", "drifted from t=2s to t=2.5s"], "labelExpr": "replace(format(datum.value, ''), '\u2212', '-')"}},
        "x2": {"field": "x1"},
        "y": {"field": "n", "type": "quantitative", "scale": {"domain": [0, 250], "nice": false}, "axis": {"values": [0,50,100,150,200,250], "title": "count", "titlePadding": 7}},
        "y2": {"datum": 0}}},
      {"mark": {"type": "tick", "opacity": 0},
       "encoding": {
        "x": {"field": "x0", "type": "quantitative", "scale": {"domain": [-2.11, 2.36], "nice": false, "zero": false}, "axis": {"orient": "top", "values": [-2,-1.5,-1,-0.5,0,0.5,1,1.5,2], "labels": false, "title": null}},
        "y": {"field": "n", "type": "quantitative", "scale": {"domain": [0, 250], "nice": false}, "axis": {"orient": "right", "values": [0,50,100,150,200,250], "labels": false, "title": null}}}}
    ]
  },
  {
    "width": 160, "height": 126,
    "title": {"text": "b", "dx": -29, "offset": 15},
    "resolve": {"axis": {"x": "independent", "y": "independent"}},
    "layer": [
      {"data": {"name": "pb"}, "mark": {"type": "rule", "strokeWidth": 1.2, "opacity": 0.3},
       "encoding": {
        "x": {"field": "x", "type": "quantitative", "scale": {"domain": [0, 192], "nice": false}, "axis": {"orient": "top", "values": [0,24,48,72,96,120,144,168,192], "labels": false, "title": null}},
        "y": {"field": "y", "type": "quantitative", "scale": {"domain": [0, 35], "nice": false}, "axis": {"orient": "right", "values": [0,5,10,15,20,25,30,35], "labels": false, "title": null}},
        "y2": {"datum": 0},
        "color": {"datum": "Place cells", "type": "nominal", "scale": {"domain": ["Place cells","Grid module 1","Grid module 2","Grid module 3"], "range": ["#000000","#14943a","#e0201e","#1f4fae"]}, "legend": null}}},
      {"data": {"name": "gb"}, "mark": {"type": "line", "strokeWidth": 1.6, "interpolate": "monotone"},
       "encoding": {
        "x": {"field": "x", "type": "quantitative", "scale": {"domain": [0, 192], "nice": false}, "axis": {"values": [0,24,48,72,96,120,144,168,192], "title": "Map #1 spatial location [cm]"}},
        "y": {"field": "y", "type": "quantitative", "scale": {"domain": [0, 35], "nice": false}, "axis": {"values": [0,5,10,15,20,25,30,35], "title": "Firing rate [Hz]"}},
        "color": {"field": "m", "type": "nominal", "scale": {"domain": ["Place cells","Grid module 1","Grid module 2","Grid module 3"], "range": ["#000000","#14943a","#e0201e","#1f4fae"]}, "legend": null},
        "detail": {"field": "k"}}}
    ]
  },
  {
    "width": 81, "height": 157, "view": {"stroke": null},
    "data": {"values": [{"x": 1}]},
    "mark": {"type": "rule", "strokeDash": [6, 4.5], "strokeWidth": 1.5, "color": "black"},
    "encoding": {"x": {"field": "x", "type": "quantitative", "scale": {"domain": [0, 3]}, "axis": null}}
  },
  {
    "width": 159, "height": 126,
    "title": {"text": "d", "dx": -27, "offset": 15},
    "resolve": {"axis": {"x": "independent", "y": "independent"}},
    "layer": [
      {"data": {"name": "pd"}, "mark": {"type": "rule", "strokeWidth": 1.2, "opacity": 0.3},
       "encoding": {
        "x": {"field": "x", "type": "quantitative", "scale": {"domain": [0, 192], "nice": false}, "axis": {"orient": "top", "values": [0,24,48,72,96,120,144,168,192], "labels": false, "title": null}},
        "y": {"field": "y", "type": "quantitative", "scale": {"domain": [0, 35], "nice": false}, "axis": {"orient": "right", "values": [0,5,10,15,20,25,30,35], "labels": false, "title": null}},
        "y2": {"datum": 0},
        "color": {"datum": "Place cells", "type": "nominal", "scale": {"domain": ["Place cells","Grid module 1","Grid module 2","Grid module 3"], "range": ["#000000","#14943a","#e0201e","#1f4fae"]}, "legend": null}}},
      {"data": {"name": "gd"}, "mark": {"type": "line", "strokeWidth": 1.6, "interpolate": "monotone"},
       "encoding": {
        "x": {"field": "x", "type": "quantitative", "scale": {"domain": [0, 192], "nice": false}, "axis": {"values": [0,24,48,72,96,120,144,168,192], "title": "Map #6 spatial location [cm]"}},
        "y": {"field": "y", "type": "quantitative", "scale": {"domain": [0, 35], "nice": false}, "axis": {"values": [0,5,10,15,20,25,30,35], "title": "Firing rate [Hz]"}},
        "color": {"field": "m", "type": "nominal", "scale": {"domain": ["Place cells","Grid module 1","Grid module 2","Grid module 3"], "range": ["#000000","#14943a","#e0201e","#1f4fae"]}, "legend": null},
        "detail": {"field": "k"}}}
    ]
  }
]
}
